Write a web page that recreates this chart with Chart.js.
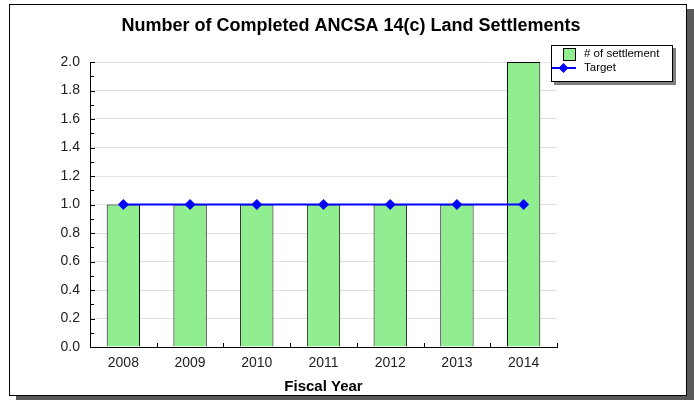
<!DOCTYPE html>
<html>
<head>
<meta charset="utf-8">
<script src="https://cdn.jsdelivr.net/npm/chart.js@4"></script>
<style>
  body { margin: 0; background: #fff; }
  #frame {
    position: absolute; left: 9px; top: 4px; width: 676px; height: 390px;
    border: 1px solid #000; box-shadow: 7px 5px 0 #5a5a5a; background: #fff;
  }
  #wrap { position: absolute; left: 0; top: 0; width: 694px; height: 400px; }
</style>
</head>
<body>
<div id="frame"></div>
<div id="wrap"><canvas id="myChart" width="694" height="400"></canvas></div>
<script>
const years = ['2008', '2009', '2010', '2011', '2012', '2013', '2014'];
const settlements = [1, 1, 1, 1, 1, 1, 2];
const target = [1, 1, 1, 1, 1, 1, 1];
const yTicks = [0, 0.2, 0.4, 0.6, 0.8, 1.0, 1.2, 1.4, 1.6, 1.8, 2.0];

const FONT = '"Liberation Sans", Arial, sans-serif';

// title, inner tick marks and the boxed legend
const extras = {
    id: 'extras',
    afterDraw(chart) {
        const ctx = chart.ctx;
        const area = chart.chartArea;
        const xs = chart.scales.x;
        const ys = chart.scales.y;
        ctx.save();

        // title
        ctx.fillStyle = '#000';
        ctx.font = 'bold 18px ' + FONT;
        ctx.textAlign = 'center';
        ctx.textBaseline = 'alphabetic';
        ctx.fillText('Number of Completed ANCSA 14(c) Land Settlements', 351, 31);

        // y ticks (minor every 0.1)
        ctx.strokeStyle = '#000';
        ctx.lineWidth = 1;
        for (let i = 0; i <= 20; i++) {
            const y = Math.round(ys.getPixelForValue(i / 10)) + 0.5;
            const len = i % 2 === 0 ? 5 : 4;
            ctx.beginPath();
            ctx.moveTo(area.left, y);
            ctx.lineTo(area.left + len, y);
            ctx.stroke();
        }
        // x ticks at category boundaries
        const bounds = [];
        for (let i = 0; i < years.length - 1; i++) {
            bounds.push((xs.getPixelForValue(i) + xs.getPixelForValue(i + 1)) / 2);
        }
        bounds.push(area.right);
        bounds.forEach(b => {
            const x = Math.round(b) + 0.5;
            ctx.beginPath();
            ctx.moveTo(x, area.bottom);
            ctx.lineTo(x, area.bottom - 4);
            ctx.stroke();
        });

        // legend box
        const lx = 551, ly = 45, lw = 121, lh = 36;
        ctx.fillStyle = '#808080';
        ctx.fillRect(lx + 3, ly + 3, lw + 1, lh + 1);
        ctx.fillStyle = '#fff';
        ctx.fillRect(lx, ly, lw, lh);
        ctx.strokeStyle = '#000';
        ctx.strokeRect(lx + 0.5, ly + 0.5, lw, lh);

        ctx.fillStyle = '#90ee90';
        ctx.fillRect(563, 48, 12, 12);
        ctx.strokeRect(563.5, 48.5, 12, 12);

        ctx.strokeStyle = '#0000ff';
        ctx.lineWidth = 2;
        ctx.beginPath();
        ctx.moveTo(552, 68);
        ctx.lineTo(576, 68);
        ctx.stroke();
        ctx.fillStyle = '#0000ff';
        ctx.beginPath();
        ctx.moveTo(563.5, 63);
        ctx.lineTo(568.5, 68);
        ctx.lineTo(563.5, 73);
        ctx.lineTo(558.5, 68);
        ctx.closePath();
        ctx.fill();

        ctx.fillStyle = '#000';
        ctx.font = '11.5px ' + FONT;
        ctx.textAlign = 'left';
        ctx.textBaseline = 'middle';
        ctx.fillText('# of settlement', 584, 54);
        ctx.fillText('Target', 584, 68);
        ctx.restore();
    }
};

new Chart(document.getElementById('myChart'), {
    data: {
        labels: years,
        datasets: [
            {
                type: 'line',
                label: 'Target',
                data: target,
                borderColor: '#0000ff',
                backgroundColor: '#0000ff',
                borderWidth: 2,
                pointStyle: 'rectRot',
                pointRadius: 5.5,
                pointBorderWidth: 0,
                order: 0
            },
            {
                type: 'bar',
                label: '# of settlement',
                data: settlements,
                backgroundColor: '#90ee90',
                borderColor: '#000',
                borderWidth: 1,
                barPercentage: 0.5,
                categoryPercentage: 1.0,
                order: 1
            }
        ]
    },
    options: {
        responsive: false,
        animation: false,
        layout: { padding: { top: 62, right: 137, left: 0, bottom: 0 } },
        plugins: {
            legend: { display: false },
            title: { display: false },
            tooltip: { enabled: false }
        },
        scales: {
            x: {
                offset: true,
                afterFit: s => { s.height = 53; },
                grid: { drawOnChartArea: false, drawTicks: false },
                border: { color: '#000', width: 1 },
                ticks: { color: '#222', padding: 8, font: { family: FONT, size: 14 } },
                title: {
                    display: true,
                    text: 'Fiscal Year',
                    color: '#000',
                    padding: { top: 0, bottom: 4 },
                    font: { family: FONT, size: 15, weight: 'bold' }
                }
            },
            y: {
                min: 0,
                max: 2,
                afterFit: s => { s.width = 90; },
                afterBuildTicks: s => { s.ticks = yTicks.map(v => ({ value: v })); },
                grid: { color: '#e2e2e2', drawTicks: false },
                border: { color: '#000', width: 1 },
                ticks: {
                    color: '#222',
                    padding: 10,
                    font: { family: FONT, size: 14 },
                    callback: v => Number(v).toFixed(1)
                }
            }
        }
    },
    plugins: [extras]
});
</script>
</body>
</html>
